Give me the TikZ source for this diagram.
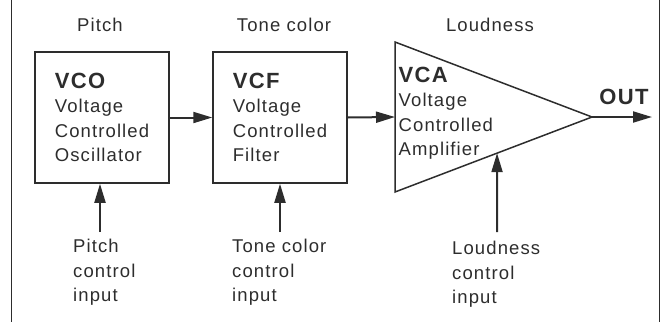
\documentclass[tikz,border=0pt]{standalone}
\usepackage{fontspec}
\setmainfont{Liberation Sans}[LetterSpace=6]
\usetikzlibrary{arrows.meta,calc}

\definecolor{inkGray}{RGB}{45,45,45}

\newcommand{\unitname}[1]{{\fontsize{22}{24.5}\selectfont\bfseries #1}}

\begin{document}
\begin{tikzpicture}[
  x=1pt, y=-1pt,
  font=\fontsize{18.5}{24.5}\selectfont,
  block/.style={draw=inkGray, line width=1.5pt, text=inkGray, minimum width=134pt, minimum height=131pt, align=left, inner sep=0pt},
  heading/.style={text=inkGray, inner sep=0pt},
  caption/.style={text=inkGray, anchor=north west, align=left, inner sep=0pt},
  amp/.style={draw=inkGray, line width=1.5pt, line join=miter},
  sig/.style={draw=inkGray, line width=2pt, -{Triangle[length=19pt,width=11pt]}},
  frame/.style={draw=inkGray, line width=1.8pt}
]
\useasboundingbox (0,0) rectangle (663,322);

% Side rules
\draw[frame] (11.5,0) -- (11.5,322);
\draw[frame] (659.5,0) -- (659.5,322);

% Headings
\node[heading] (hPitch) at (100,25) {Pitch};
\node[heading] (hTone) at (284,25) {Tone color};
\node[heading] (hLoud) at (490,25) {Loudness};

% Blocks
\node[block] (vco) at (102,117.5) {\unitname{VCO}\\Voltage\\Controlled\\Oscillator};
\node[block] (vcf) at (280,117.5) {\unitname{VCF}\\Voltage\\Controlled\\Filter};

% Amplifier triangle
\coordinate (vcaTop) at (395,42);
\coordinate (vcaBot) at (395,192);
\coordinate (vcaTip) at (592,117);
\coordinate (vcaIn) at (395,117);
\draw[amp] (vcaTop) -- (vcaTip) -- (vcaBot) -- cycle;
\node[caption] (vca) at (398.5,66.5) {\unitname{VCA}\\Voltage\\Controlled\\Amplifier};

% Output
\coordinate (outEnd) at (652,117);
\node[heading, font=\fontsize{22}{24.5}\selectfont\bfseries] (outLbl) at (624,97) {OUT};

% Signal path
\draw[sig] (vco.east) -- (vcf.west);
\draw[sig] (vcf.east) -- (vcaIn);
\draw[sig] (vcaTip) -- (outEnd);

% Control inputs
\coordinate (pitchIn) at (100,232);
\coordinate (toneIn) at (280,232);
\coordinate (loudIn) at (497,232);
\draw[sig] (pitchIn) -- (pitchIn |- vco.south);
\draw[sig] (toneIn) -- (toneIn |- vcf.south);
\draw[sig] (loudIn) -- ($(vcaBot)!0.518!(vcaTip)$);

\node[caption] (cPitch) at (73,239) {Pitch\\control\\input};
\node[caption] (cTone) at (232,239) {Tone color\\control\\input};
\node[caption] (cLoud) at (452,241) {Loudness\\control\\input};

\end{tikzpicture}
\end{document}
